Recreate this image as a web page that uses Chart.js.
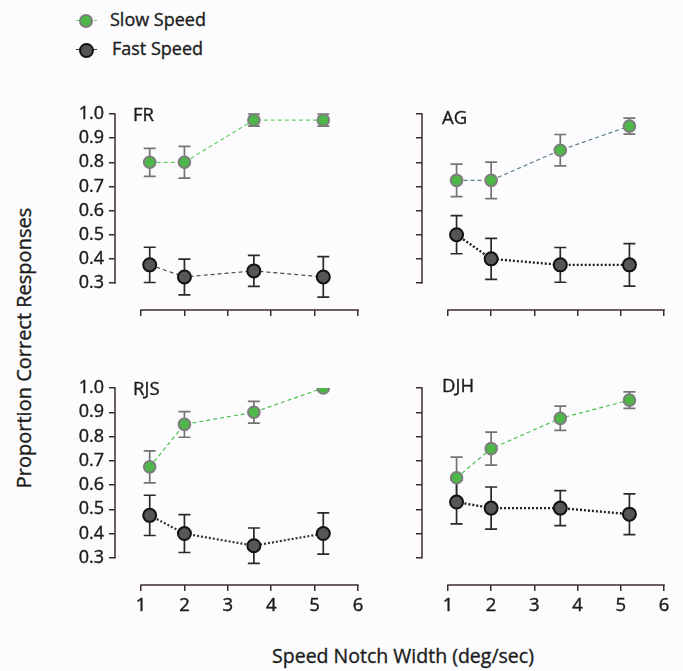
<!DOCTYPE html>
<html>
<head>
<meta charset="utf-8">
<script src="https://cdn.jsdelivr.net/npm/chart.js@4"></script>
<style>
  body { margin: 0; background: #fcfcfe; font-family: 'Open Sans', sans-serif; color: #1b1b1b; }
  #page { position: relative; width: 683px; height: 671px; overflow: hidden; }
  canvas { position: absolute; }
  .txt { position: absolute; font-size: 18px; line-height: 1; white-space: nowrap; -webkit-text-stroke: 0.35px #1b1b1b; }
  .mk-line { position: absolute; height: 0; }
  .mk-dot { position: absolute; border-radius: 50%; box-sizing: border-box; }
</style>
</head>
<body>
<div id="page">
  <!-- legend -->
  <div class="mk-line" style="left:76px;top:20px;width:21px;border-top:1.5px dashed #5fcf5f"></div>
  <div class="mk-dot" style="left:79px;top:14px;width:14px;height:14px;background:#4db848;border:2px solid #7d7d7d"></div>
  <div class="txt" style="left:110px;top:10px">Slow Speed</div>
  <div class="mk-line" style="left:76px;top:49px;width:21px;border-top:1.5px dashed #333"></div>
  <div class="mk-dot" style="left:78.5px;top:42.5px;width:15px;height:15px;background:#555;border:2px solid #111"></div>
  <div class="txt" style="left:112px;top:38.5px">Fast Speed</div>

  <canvas id="fr" width="318" height="256" style="left:55px;top:94px"></canvas>
  <canvas id="ag" width="317" height="256" style="left:362px;top:94px"></canvas>
  <canvas id="rjs" width="318" height="257" style="left:55px;top:368px"></canvas>
  <canvas id="djh" width="317" height="257" style="left:362px;top:368px"></canvas>

  <div class="txt" style="left:133px;top:105px;font-size:18.5px">FR</div>
  <div class="txt" style="left:442px;top:108px;font-size:18.5px">AG</div>
  <div class="txt" style="left:133px;top:379px;font-size:18.5px">RJS</div>
  <div class="txt" style="left:442px;top:376px;font-size:18.5px">DJH</div>

  <div class="txt" style="left:24px;top:348px;font-size:20px;transform:translate(-50%,-50%) rotate(-90deg)">Proportion Correct Responses</div>
  <div class="txt" style="left:403px;top:646px;font-size:19.5px;transform:translateX(-50%)">Speed Notch Width (deg/sec)</div>
</div>

<script>
// data
const speedX = [1.2, 2, 3.6, 5.2];
const xTicks = [1, 2, 3, 4, 5, 6];
const yTicks = [0.3, 0.4, 0.5, 0.6, 0.7, 0.8, 0.9, 1.0];
const seriesNames = ["Slow Speed", "Fast Speed"];

const frSlow = [0.8, 0.8, 0.975, 0.975];
const frSlowErr = [0.058, 0.066, 0.025, 0.025];
const frFast = [0.375, 0.325, 0.35, 0.325];
const frFastErr = [0.073, 0.074, 0.064, 0.084];

const agSlow = [0.725, 0.725, 0.85, 0.95];
const agSlowErr = [0.067, 0.076, 0.065, 0.033];
const agFast = [0.5, 0.4, 0.375, 0.375];
const agFastErr = [0.079, 0.085, 0.072, 0.088];

const rjsSlow = [0.675, 0.85, 0.9, 1.0];
const rjsSlowErr = [0.066, 0.053, 0.045, 0];
const rjsFast = [0.475, 0.4, 0.35, 0.4];
const rjsFastErr = [0.083, 0.078, 0.073, 0.085];

const djhSlow = [0.63, 0.75, 0.875, 0.95];
const djhSlowErr = [0.085, 0.068, 0.05, 0.034];
const djhFast = [0.53, 0.505, 0.505, 0.48];
const djhFastErr = [0.09, 0.087, 0.072, 0.084];

const AXIS = "#3a2c2a";
Chart.defaults.font.family = "'Open Sans', sans-serif";
Chart.defaults.color = "#1b1b1b";

// axis lines only span the tick range (offset axes)
const axisLines = {
  id: "axisLines",
  beforeDatasetsDraw(chart) {
    const { ctx, chartArea, scales: { x, y } } = chart;
    ctx.save();
    ctx.strokeStyle = AXIS;
    ctx.lineWidth = 1.5;
    ctx.beginPath();
    ctx.moveTo(chartArea.left, y.getPixelForValue(yTicks[yTicks.length - 1]) - 0.75);
    ctx.lineTo(chartArea.left, y.getPixelForValue(yTicks[0]) + 0.75);
    ctx.moveTo(x.getPixelForValue(xTicks[0]) - 0.75, chartArea.bottom);
    ctx.lineTo(x.getPixelForValue(xTicks[xTicks.length - 1]) + 0.75, chartArea.bottom);
    ctx.stroke();
    ctx.restore();
  }
};

// vertical error bars with caps
const errorBars = {
  id: "errorBars",
  beforeDatasetsDraw(chart) {
    const { ctx, scales: { x, y } } = chart;
    chart.data.datasets.forEach(ds => {
      ctx.save();
      ctx.strokeStyle = ds.errColor;
      ctx.lineWidth = 1.7;
      ds.data.forEach((p, j) => {
        const e = ds.errors[j];
        if (!e) return;
        const px = x.getPixelForValue(p.x);
        const top = y.getPixelForValue(p.y + e);
        const bot = y.getPixelForValue(p.y - e);
        ctx.beginPath();
        ctx.moveTo(px, top); ctx.lineTo(px, bot);
        ctx.moveTo(px - 6, top); ctx.lineTo(px + 6, top);
        ctx.moveTo(px - 6, bot); ctx.lineTo(px + 6, bot);
        ctx.stroke();
      });
      ctx.restore();
    });
  }
};

const pts = vals => speedX.map((x, i) => ({ x: x, y: vals[i] }));

function makePanel(id, slow, slowErr, fast, fastErr, st) {
  new Chart(document.getElementById(id), {
    type: "line",
    data: {
      datasets: [
        {
          label: seriesNames[0], data: pts(slow), errors: slowErr, errColor: "#747474",
          borderColor: st.slowLine, borderWidth: 1.2, borderDash: [4, 3],
          pointRadius: 5.8, pointBorderWidth: 2, pointBackgroundColor: "#4db848", pointBorderColor: "#7d7d7d"
        },
        {
          label: seriesNames[1], data: pts(fast), errors: fastErr, errColor: "#2a2a2a",
          borderColor: st.fastLine, borderWidth: st.fastWidth, borderDash: st.fastDash,
          pointRadius: 6.5, pointBorderWidth: 2, pointBackgroundColor: "#565656", pointBorderColor: "#121212"
        }
      ]
    },
    options: {
      responsive: false,
      animation: false,
      devicePixelRatio: 1,
      layout: { padding: { top: 20, right: 15, left: 0, bottom: 0 } },
      plugins: { legend: { display: false }, tooltip: { enabled: false } },
      scales: {
        x: {
          type: "linear", min: 0.4, max: 6, bounds: "data",
          afterBuildTicks: s => { s.ticks = xTicks.map(v => ({ value: v })); },
          afterFit: s => { s.height = 40; },
          border: { display: false },
          grid: { drawOnChartArea: false, tickLength: 6, color: AXIS, lineWidth: 1.5 },
          ticks: { display: st.showX, padding: 4, font: { size: 18.5 }, textStrokeWidth: 0.4, textStrokeColor: "#1b1b1b",
            callback: v => String(v) }
        },
        y: {
          type: "linear", min: 0.188, max: 1.0, bounds: "data",
          afterBuildTicks: s => { s.ticks = yTicks.map(v => ({ value: v })); },
          afterFit: s => { s.width = 60; },
          border: { display: false },
          grid: { drawOnChartArea: false, tickLength: 6, color: AXIS, lineWidth: 1.5 },
          ticks: { display: st.showY, padding: 5, font: { size: 18 }, textStrokeWidth: 0.4, textStrokeColor: "#1b1b1b",
            callback: v => v.toFixed(1) }
        }
      }
    },
    plugins: [axisLines, errorBars]
  });
}

makePanel("fr", frSlow, frSlowErr, frFast, frFastErr,
  { slowLine: "#5fcf5f", fastLine: "#4a4a4a", fastWidth: 1.2, fastDash: [4, 3], showX: false, showY: true });
makePanel("ag", agSlow, agSlowErr, agFast, agFastErr,
  { slowLine: "#5f8080", fastLine: "#222", fastWidth: 2.4, fastDash: [2, 2], showX: false, showY: false });
makePanel("rjs", rjsSlow, rjsSlowErr, rjsFast, rjsFastErr,
  { slowLine: "#4cc04c", fastLine: "#333", fastWidth: 2.2, fastDash: [2, 2], showX: true, showY: true });
makePanel("djh", djhSlow, djhSlowErr, djhFast, djhFastErr,
  { slowLine: "#4cc04c", fastLine: "#222", fastWidth: 2.4, fastDash: [2, 2], showX: true, showY: false });
</script>
</body>
</html>
